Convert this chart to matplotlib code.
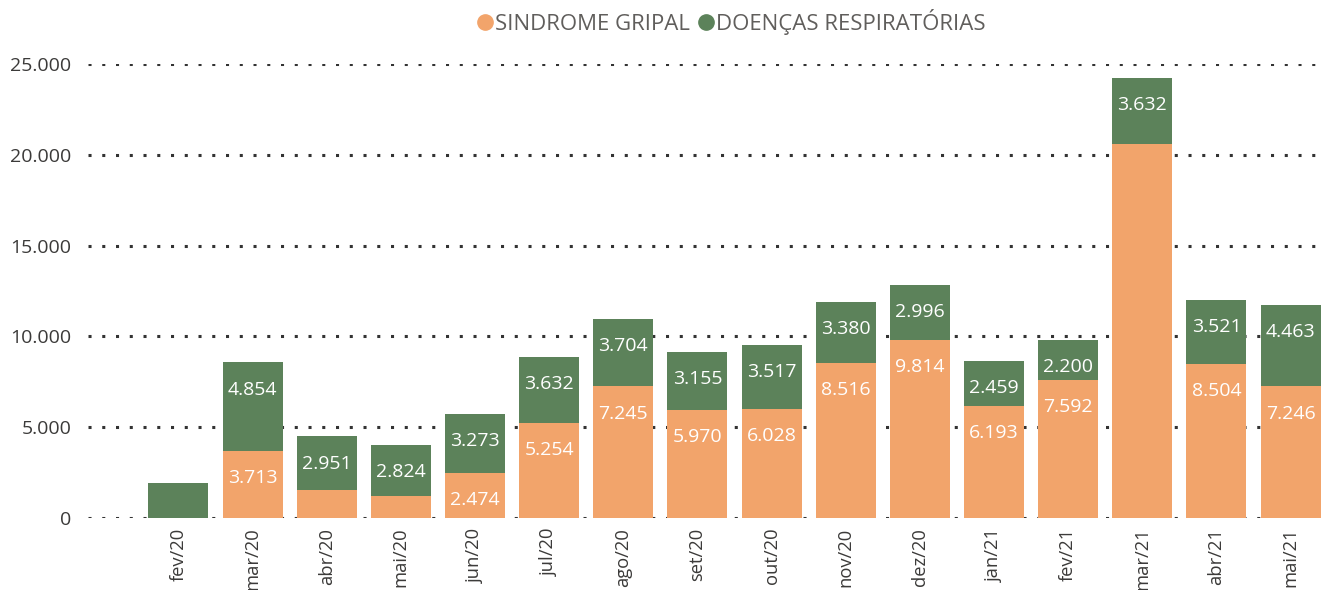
import matplotlib
matplotlib.use("Agg")
import matplotlib.pyplot as plt
from matplotlib.lines import Line2D

plt.rcParams['font.family'] = ['Open Sans', 'DejaVu Sans']

# data
months = ['fev/20', 'mar/20', 'abr/20', 'mai/20', 'jun/20', 'jul/20', 'ago/20', 'set/20',
          'out/20', 'nov/20', 'dez/20', 'jan/21', 'fev/21', 'mar/21', 'abr/21', 'mai/21']
sindrome_gripal = [0, 3713, 1540, 1210, 2474, 5254, 7245, 5970,
                   6028, 8516, 9814, 6193, 7592, 20595, 8504, 7246]
doencas_resp = [1930, 4854, 2951, 2824, 3273, 3632, 3704, 3155,
                3517, 3380, 2996, 2459, 2200, 3632, 3521, 4463]
# which segments carry a data label in the reference
show_sg = [False, True, False, False, True, True, True, True,
           True, True, True, True, True, False, True, True]
show_dr = [False, True, True, True, True, True, True, True,
           True, True, True, True, True, True, True, True]
y_ticks = [0, 5000, 10000, 15000, 20000, 25000]

c_orange = '#F2A46B'
c_green = '#5C825A'
c_text = '#605E5C'


def fmt(v):
    return f'{v:,}'.replace(',', '.')


fig = plt.figure(figsize=(13.21, 5.90), dpi=100)
ax = fig.add_axes([0.0666, 0.122, 0.9334, 0.7695])

x = list(range(len(months)))
w = 0.81
ax.bar(x, sindrome_gripal, width=w, color=c_orange, zorder=3)
ax.bar(x, doencas_resp, width=w, bottom=sindrome_gripal, color=c_green, zorder=3)

# labels sit near the top of each segment (inside end)
for i in x:
    if show_sg[i]:
        ax.annotate(fmt(sindrome_gripal[i]), (i, sindrome_gripal[i]), xytext=(0, -19.5),
                    textcoords='offset points', ha='center', va='center',
                    color='white', fontsize=14, zorder=4)
    if show_dr[i]:
        top = sindrome_gripal[i] + doencas_resp[i]
        ax.annotate(fmt(doencas_resp[i]), (i, top), xytext=(0, -19.5),
                    textcoords='offset points', ha='center', va='center',
                    color='white', fontsize=14, zorder=4)

ax.set_xlim(-1.22, 15.41)
ax.set_ylim(0, 25000)
ax.set_yticks(y_ticks)
ax.set_yticklabels([fmt(t) for t in y_ticks], fontsize=14, color='#3b3a39')
ax.set_xticks(x)
ax.set_xticklabels(months, rotation=90, fontsize=13.2, color='#3b3a39', va='top', ha='center')
ax.tick_params(axis='y', length=0, pad=12)
ax.tick_params(axis='x', length=0, pad=7)
for s in ax.spines.values():
    s.set_visible(False)
ax.yaxis.grid(True, color='#333333', linestyle=(0, (1, 3.5)), linewidth=2.2, zorder=1)
ax.set_axisbelow(True)

handles = [Line2D([], [], marker='o', linestyle='', markersize=11, color=c_orange),
           Line2D([], [], marker='o', linestyle='', markersize=11, color=c_green)]
fig.legend(handles, ['SINDROME GRIPAL', 'DOENÇAS RESPIRATÓRIAS'], loc='center',
           bbox_to_anchor=(0.553, 0.963), ncol=2, frameon=False, fontsize=16,
           labelcolor=c_text, handletextpad=0.0, columnspacing=0.3, handlelength=0.9)

fig.savefig('out.png', dpi=100)
